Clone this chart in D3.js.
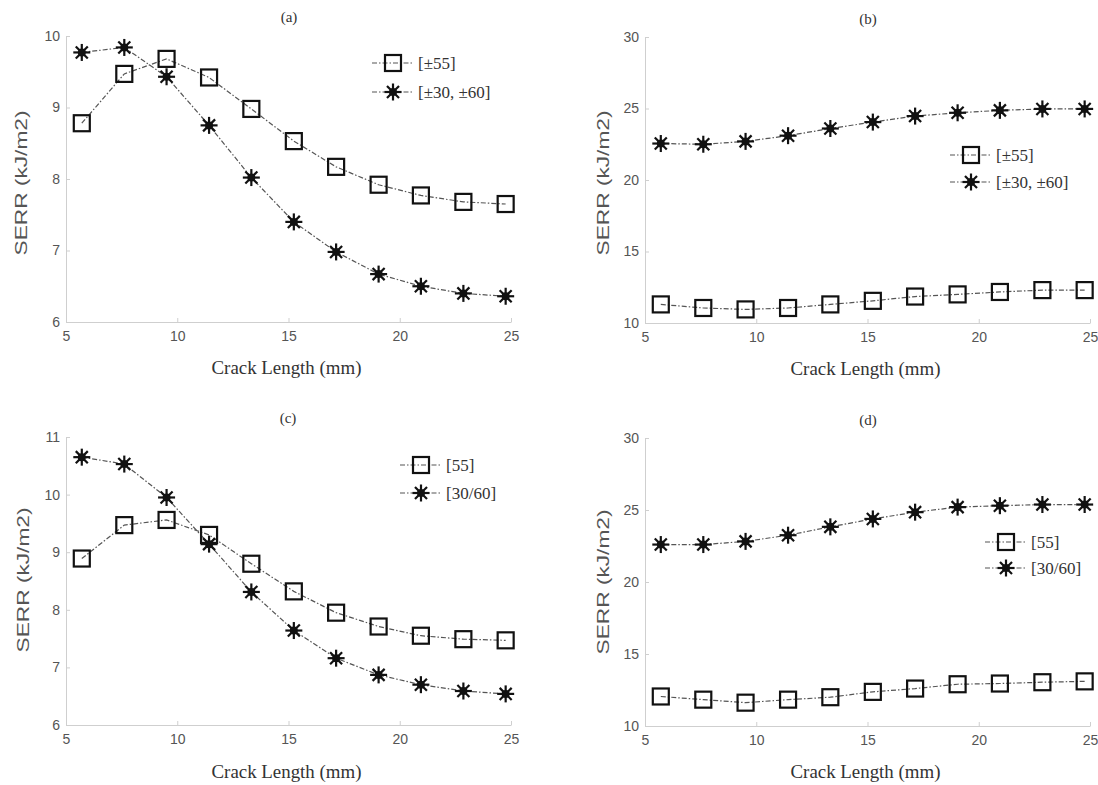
<!DOCTYPE html>
<html>
<head>
<meta charset="utf-8">
<script src="https://cdn.jsdelivr.net/npm/d3@7"></script>
<style>
  body { margin: 0; background: #fff; }
  svg { display: block; }
  .axis path, .axis line { stroke: #cfcfcf; }
  .axis text { fill: #555; font-family: "Liberation Sans", Arial, sans-serif; font-size: 14px; }
  .title, .legend text, .x-label { font-family: "Liberation Serif", "Times New Roman", serif; fill: #333; }
  .y-label { font-family: "Liberation Sans", Arial, sans-serif; fill: #555; }
</style>
</head>
<body>
<div id="chart"></div>
<script>
// Data
var crackLength = [5.71, 7.62, 9.52, 11.43, 13.33, 15.24, 17.14, 19.05, 20.95, 22.86, 24.76];

var serrA55 = [8.78, 9.47, 9.68, 9.42, 8.98, 8.53, 8.17, 7.92, 7.77, 7.68, 7.65];
var serrA3060 = [9.77, 9.84, 9.43, 8.75, 8.02, 7.40, 6.98, 6.67, 6.50, 6.40, 6.36];

var serrB55 = [11.3, 11.05, 10.95, 11.05, 11.3, 11.55, 11.85, 12.0, 12.17, 12.3, 12.3];
var serrB3060 = [22.55, 22.5, 22.7, 23.1, 23.6, 24.05, 24.47, 24.7, 24.87, 24.97, 24.97];

var serrC55 = [8.89, 9.47, 9.56, 9.3, 8.8, 8.32, 7.95, 7.71, 7.55, 7.49, 7.47];
var serrC3060 = [10.65, 10.53, 9.95, 9.14, 8.31, 7.64, 7.16, 6.87, 6.70, 6.59, 6.54];

var serrD55 = [12.05, 11.83, 11.62, 11.83, 12.0, 12.37, 12.6, 12.9, 12.95, 13.04, 13.1];
var serrD3060 = [22.6, 22.6, 22.82, 23.25, 23.83, 24.38, 24.85, 25.2, 25.3, 25.38, 25.38];

var xTicks = [5, 10, 15, 20, 25];
var yTicksA = [6, 7, 8, 9, 10];
var yTicksC = [6, 7, 8, 9, 10, 11];
var yTicksBD = [10, 15, 20, 25, 30];

var labelsAB = ["[\u00b155]", "[\u00b130, \u00b160]"];
var labelsCD = ["[55]", "[30/60]"];

// Panel layout (pixels)
var panels = [
  { title: "(a)", s55: serrA55, s3060: serrA3060, yDomain: [6, 10], yTicks: yTicksA, labels: labelsAB,
    x0: 66, x1: 511, yTop: 36, yBottom: 322, titleX: 289, titleY: 22, xLabelY: 374, yLabelX: 21, yLabelY: 183,
    legX: 393, legY: [63, 92] },
  { title: "(b)", s55: serrB55, s3060: serrB3060, yDomain: [10, 30], yTicks: yTicksBD, labels: labelsAB,
    x0: 645, x1: 1090, yTop: 37, yBottom: 323, titleX: 868, titleY: 24, xLabelY: 375, yLabelX: 603, yLabelY: 183,
    legX: 971, legY: [155, 182] },
  { title: "(c)", s55: serrC55, s3060: serrC3060, yDomain: [6, 11], yTicks: yTicksC, labels: labelsCD,
    x0: 66, x1: 511, yTop: 437, yBottom: 725, titleX: 288, titleY: 423, xLabelY: 778, yLabelX: 23, yLabelY: 580,
    legX: 421, legY: [465, 493] },
  { title: "(d)", s55: serrD55, s3060: serrD3060, yDomain: [10, 30], yTicks: yTicksBD, labels: labelsCD,
    x0: 645, x1: 1090, yTop: 438, yBottom: 726, titleX: 868, titleY: 425, xLabelY: 778, yLabelX: 603, yLabelY: 582,
    legX: 1006, legY: [542, 568] }
];

var svg = d3.select("#chart")
  .append("svg")
  .attr("width", 1098)
  .attr("height", 785);

var lineDash = "5,2,1.5,2";

// Marker drawing helpers
var drawSquare = function(g, x, y) {
  g.append("rect")
    .attr("x", x - 8)
    .attr("y", y - 8)
    .attr("width", 16)
    .attr("height", 16)
    .attr("fill", "none")
    .attr("stroke", "#111")
    .attr("stroke-width", 2.2);
};

var drawStar = function(g, x, y) {
  var r = 8.5;
  [0, 45, 90, 135].forEach(function(a) {
    var rad = (a * Math.PI) / 180;
    g.append("line")
      .attr("x1", x - r * Math.cos(rad))
      .attr("y1", y - r * Math.sin(rad))
      .attr("x2", x + r * Math.cos(rad))
      .attr("y2", y + r * Math.sin(rad))
      .attr("stroke", "#111")
      .attr("stroke-width", 2.2);
  });
  g.append("circle")
    .attr("cx", x)
    .attr("cy", y)
    .attr("r", 4)
    .attr("fill", "#111");
};

var renderPanel = function(p) {
  var xScale = d3.scaleLinear().domain([5, 25]).range([p.x0, p.x1]);
  var yScale = d3.scaleLinear().domain(p.yDomain).range([p.yBottom, p.yTop]);

  var g = svg.append("g");

  // Axes
  g.append("g")
    .attr("class", "axis x")
    .attr("transform", "translate(0," + p.yBottom + ")")
    .call(d3.axisBottom(xScale).tickValues(xTicks).tickFormat(d3.format("d"))
      .tickSize(-4).tickSizeOuter(0).tickPadding(9));

  g.append("g")
    .attr("class", "axis y")
    .attr("transform", "translate(" + p.x0 + ",0)")
    .call(d3.axisLeft(yScale).tickValues(p.yTicks).tickFormat(d3.format("d"))
      .tickSize(-4).tickSizeOuter(0).tickPadding(6));

  // Series lines
  var line = d3.line()
    .x(function(d, i) { return xScale(crackLength[i]); })
    .y(function(d) { return yScale(d); });

  [p.s55, p.s3060].forEach(function(series) {
    g.append("path")
      .datum(series)
      .attr("d", line)
      .attr("fill", "none")
      .attr("stroke", "#555")
      .attr("stroke-width", 1.2)
      .attr("stroke-dasharray", lineDash);
  });

  // Markers
  var marks = g.append("g");
  p.s55.forEach(function(d, i) {
    drawSquare(marks, xScale(crackLength[i]), yScale(d));
  });
  p.s3060.forEach(function(d, i) {
    drawStar(marks, xScale(crackLength[i]), yScale(d));
  });

  // Title and axis labels
  g.append("text")
    .attr("class", "title")
    .attr("x", p.titleX)
    .attr("y", p.titleY)
    .attr("text-anchor", "middle")
    .attr("font-size", 15)
    .text(p.title);

  g.append("text")
    .attr("class", "x-label")
    .attr("x", (p.x0 + p.x1) / 2 - 2)
    .attr("y", p.xLabelY)
    .attr("text-anchor", "middle")
    .attr("font-size", 18)
    .attr("textLength", 150)
    .attr("lengthAdjust", "spacingAndGlyphs")
    .text("Crack Length (mm)");

  g.append("text")
    .attr("class", "y-label")
    .attr("transform", "translate(" + (p.yLabelX + 6) + "," + p.yLabelY + ") rotate(-90)")
    .attr("text-anchor", "middle")
    .attr("font-size", 17)
    .attr("textLength", 145)
    .attr("lengthAdjust", "spacingAndGlyphs")
    .text("SERR  (kJ/m2)");

  // Legend
  var legend = g.append("g").attr("class", "legend");
  [drawSquare, drawStar].forEach(function(draw, i) {
    var ly = p.legY[i];
    legend.append("line")
      .attr("x1", p.legX - 21)
      .attr("x2", p.legX + 21)
      .attr("y1", ly)
      .attr("y2", ly)
      .attr("stroke", "#555")
      .attr("stroke-width", 1.2)
      .attr("stroke-dasharray", lineDash);
    draw(legend, p.legX, ly);
    legend.append("text")
      .attr("x", p.legX + 25)
      .attr("y", ly + 6)
      .attr("font-size", 17)
      .text(p.labels[i]);
  });
};

panels.forEach(renderPanel);
</script>
</body>
</html>
